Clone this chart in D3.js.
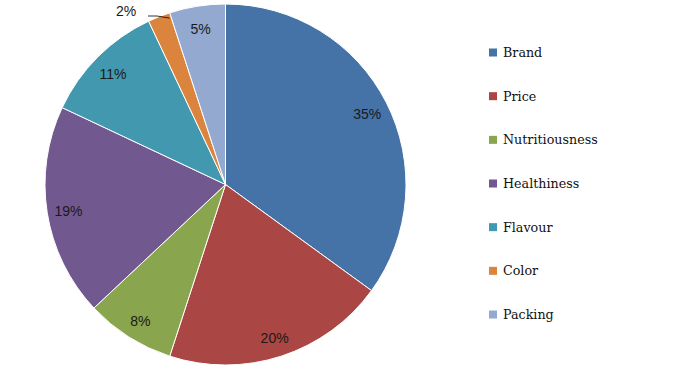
<!DOCTYPE html>
<html><head><meta charset="utf-8">
<script src="https://cdn.jsdelivr.net/npm/d3@7/dist/d3.min.js"></script>
<style>body{margin:0;background:#fff}svg{display:block}</style>
</head><body>
<svg id="c" width="677" height="369"></svg>
<script>
const categories = ["Brand","Price","Nutritiousness","Healthiness","Flavour","Color","Packing"];
const values = [35,20,8,19,11,2,5];
const colors = ["#4572A7","#AA4643","#89A54E","#71588F","#4198AF","#DB843D","#93A9CF"];

const svg = d3.select("#c");
const cx = 225.5, cy = 184.5, R = 180.5;
const g = svg.append("g").attr("transform", `translate(${cx},${cy})`);
const pie = d3.pie().sort(null).value(d => d)(values);
const arc = d3.arc().innerRadius(0).outerRadius(R);
g.selectAll("path").data(pie).join("path")
  .attr("d", arc).attr("fill", (d,i) => colors[i])
  .attr("stroke", "#fff").attr("stroke-width", 1);

const labelFont = "Liberation Sans, Arial, sans-serif";
const labelArc = d3.arc().innerRadius(159).outerRadius(159);
pie.forEach((d,i) => {
  if (values[i] < 3) {
    const a = d.endAngle - 0.01;
    const ex = Math.sin(a) * (R - 5), ey = -Math.cos(a) * (R - 5);
    const tx = -99.5, ty = -174;
    g.append("path")
      .attr("d", `M${tx + 22},${ty + 5.5} L${tx + 31},${ty + 5.5} L${ex},${ey}`)
      .attr("fill", "none").attr("stroke", "#000").attr("stroke-width", 0.8);
    g.append("text").attr("x", tx).attr("y", ty)
      .attr("text-anchor", "middle").attr("dominant-baseline", "central")
      .attr("font-family", labelFont).attr("font-size", 14)
      .attr("fill", "#1a1a1a").text(values[i] + "%");
  } else {
    const [x, y] = labelArc.centroid(d);
    g.append("text").attr("x", x).attr("y", y + 2)
      .attr("text-anchor", "middle").attr("dominant-baseline", "central")
      .attr("font-family", labelFont).attr("font-size", 14)
      .attr("fill", "#1a1a1a").text(values[i] + "%");
  }
});

const leg = svg.append("g");
const ly = d3.scalePoint().domain(categories).range([52.5, 314.5]);
categories.forEach((c, i) => {
  leg.append("rect").attr("x", 489).attr("y", ly(c) - 4).attr("width", 8).attr("height", 8)
    .attr("fill", colors[i]);
  leg.append("text").attr("x", 503).attr("y", ly(c)).attr("dominant-baseline", "central")
    .attr("font-family", "DejaVu Serif, serif").attr("font-size", 12.7)
    .attr("fill", "#111").text(c);
});
</script>
</body></html>
